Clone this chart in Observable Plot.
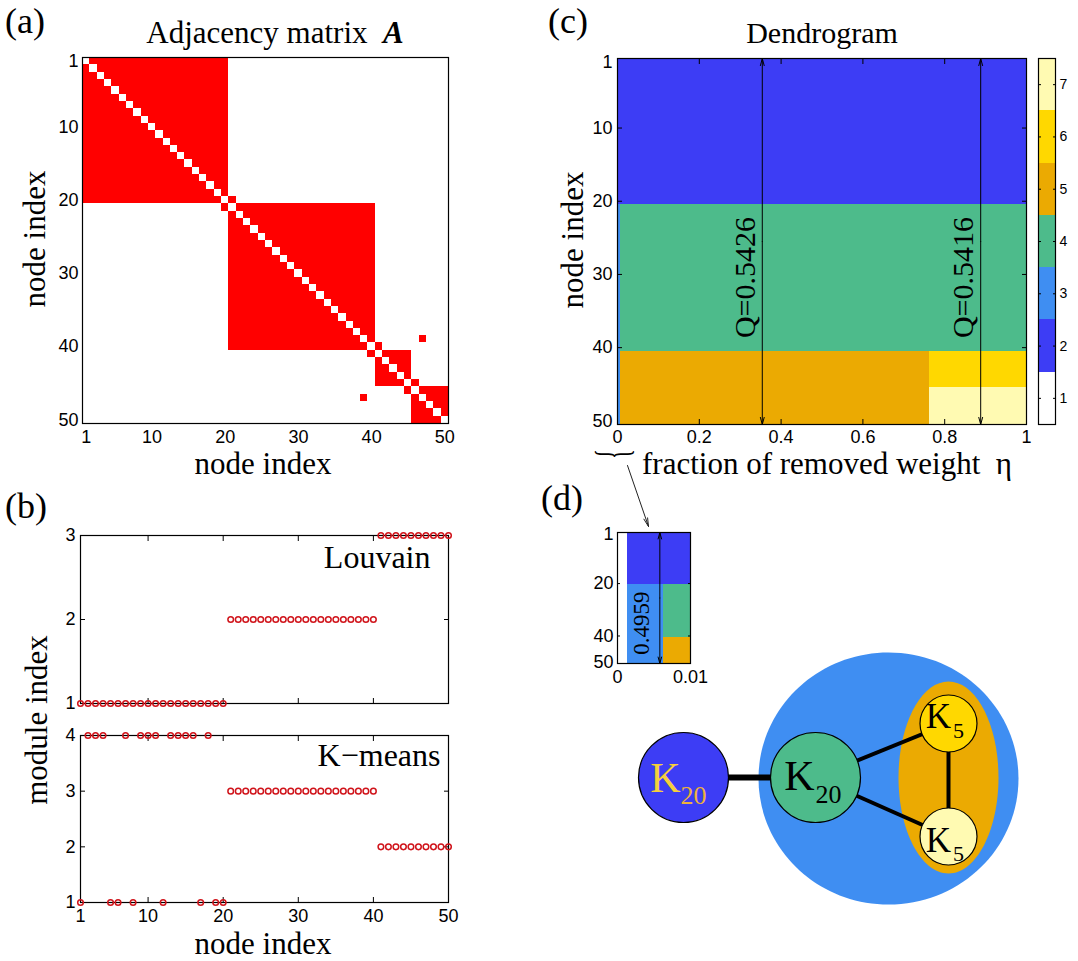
<!DOCTYPE html>
<html>
<head>
<meta charset="utf-8">
<script src="https://cdn.jsdelivr.net/npm/d3@7"></script>
<script src="https://cdn.jsdelivr.net/npm/@observablehq/plot@0.6"></script>
<style>
html,body{margin:0;padding:0;background:#fff;}
#page{position:relative;width:1078px;height:961px;overflow:hidden;background:#fff;}
.pl{position:absolute;line-height:0;}
.lbl{position:absolute;line-height:1;white-space:pre;color:#000;font-family:'Liberation Serif','Times New Roman',Times,serif;}
</style>
</head>
<body>
<div id="page"></div>
<script>
// ================= DATA =================
const nodeIndex = [1,2,3,4,5,6,7,8,9,10,11,12,13,14,15,16,17,18,19,20,21,22,23,24,25,26,27,28,29,30,31,32,33,34,35,36,37,38,39,40,41,42,43,44,45,46,47,48,49,50];
const nodeTicks = [1, 10, 20, 30, 40, 50];
const communities = [[1, 20], [21, 40], [41, 45], [46, 50]];
const bridgeEdges = [[20, 21], [40, 41], [45, 46], [39, 47]];

const louvainModule = [1,1,1,1,1,1,1,1,1,1,1,1,1,1,1,1,1,1,1,1,
                       2,2,2,2,2,2,2,2,2,2,2,2,2,2,2,2,2,2,2,2,
                       3,3,3,3,3,3,3,3,3,3];
const kmeansModule  = [1,4,4,4,1,1,4,1,4,4,4,1,4,4,4,4,1,4,1,1,
                       3,3,3,3,3,3,3,3,3,3,3,3,3,3,3,3,3,3,3,3,
                       2,2,2,2,2,2,2,2,2,2];
const louvainTicks = [1, 2, 3];
const kmeansTicks = [1, 2, 3, 4];
const moduleXTicks = [1, 10, 20, 30, 40, 50];

const etaBreaks = [0, 0.0014, 0.0063, 0.763, 1];
const rowGroups = [[1, 20], [21, 40], [41, 45], [46, 50]];
const moduleByInterval = [[1,1,1,1], [2,3,3,3], [2,4,5,5], [2,4,6,7]];
const moduleIds = [1, 2, 3, 4, 5, 6, 7];
const moduleColors = ["#ffffff", "#3d3df5", "#3f8ef2", "#4dbb8b", "#ebaa02", "#ffd800", "#fffab2"];
const etaTicks = [0, 0.2, 0.4, 0.6, 0.8, 1];
const insetEtaTicks = [0, 0.01];
const insetNodeTicks = [1, 20, 40, 50];
const qArrows = [{eta: 0.354, from: 1, to: 50, label: "Q=0.5426"}, {eta: 0.888, from: 1, to: 50, label: "Q=0.5416"}];
const insetArrows = [{eta: 0.0058, from: 1, to: 50, label: "0.4959"}];

const diagramRegions = [{id: "outer", module: 3}, {id: "pair", module: 5}];
const diagramNodes = [
  {id: "A", base: "K", sub: "20", module: 2},
  {id: "B", base: "K", sub: "20", module: 4},
  {id: "C", base: "K", sub: "5", module: 6},
  {id: "D", base: "K", sub: "5", module: 7}
];
const diagramEdges = [["A", "B"], ["B", "C"], ["B", "D"], ["C", "D"]];

// ================= LAYOUT (schematic, page px) =================
const layout = {
  outer: {cx: 888, cy: 778, rx: 130, ry: 126},
  pair: {cx: 948, cy: 777, rx: 50, ry: 96},
  A: {cx: 683, cy: 777, r: 45, kx: 665, ky: 778, sx: 693, sy: 795, ks: 42, ss: 26},
  B: {cx: 815, cy: 777, r: 45, kx: 799, ky: 776, sx: 828, sy: 794, ks: 42, ss: 26},
  C: {cx: 948, cy: 723, r: 28.5, kx: 938, ky: 716, sx: 958, sy: 730, ks: 35, ss: 22},
  D: {cx: 948, cy: 836, r: 28.5, kx: 938, ky: 840, sx: 958, sy: 853, ks: 35, ss: 22},
  pointer: {x1: 627, y1: 465, x2: 648, y2: 526}
};
const edgeWidths = {"A-B": 6};

// ================= HELPERS =================
const serif = "'Liberation Serif','Times New Roman',Times,serif";
const sans = "'Liberation Sans',Arial,Helvetica,sans-serif";
const page = document.getElementById("page");
function place(el, left, top) {
  const d = document.createElement("div");
  d.className = "pl";
  d.style.left = left + "px";
  d.style.top = top + "px";
  d.appendChild(el);
  page.appendChild(d);
}
function label(html, {x, y, size = 31, anchor = "start", rotate = 0, extra = ""}) {
  const d = document.createElement("div");
  d.className = "lbl";
  d.innerHTML = html;
  d.style.fontSize = size + "px";
  if (rotate) {
    d.style.left = x + "px";
    d.style.top = y + "px";
    d.style.transform = `translate(-50%,-50%) rotate(${rotate}deg) ${extra}`;
  } else {
    d.style.left = x + "px";
    d.style.top = (y - 0.8375 * size) + "px";
    if (anchor === "middle") d.style.transform = "translateX(-50%) " + extra;
    else if (anchor === "end") d.style.transform = "translateX(-100%) " + extra;
  }
  page.appendChild(d);
  return d;
}
const baseStyle = {fontFamily: sans, fontSize: "18px", background: "transparent", overflow: "visible", color: "black"};
function inTicks(axis, values, anchors, len = 5) {
  const f = axis === "x" ? Plot.axisX : Plot.axisY;
  return anchors.map(a => f(values, {anchor: a, tickSize: -len, tickFormat: () => "", label: null, strokeWidth: 1}));
}
const fmt = d => String(d);
function ellipseSymbol(rx, ry) {
  const k = 0.5523;
  return {draw(ctx) {
    ctx.moveTo(rx, 0);
    ctx.bezierCurveTo(rx, k * ry, k * rx, ry, 0, ry);
    ctx.bezierCurveTo(-k * rx, ry, -rx, k * ry, -rx, 0);
    ctx.bezierCurveTo(-rx, -k * ry, -k * rx, -ry, 0, -ry);
    ctx.bezierCurveTo(k * rx, -ry, rx, -k * ry, rx, 0);
    ctx.closePath();
  }};
}
const colorScale = {type: "ordinal", domain: moduleIds, range: moduleColors};

// ================= PANEL (a) =================
function linked(i, j) {
  return communities.some(([a, b]) => i >= a && i <= b && j >= a && j <= b) ||
    bridgeEdges.some(([a, b]) => (a === i && b === j) || (a === j && b === i));
}
const adjCells = [];
for (const i of nodeIndex) for (const j of nodeIndex) if (i !== j && linked(i, j)) adjCells.push({row: i, col: j});

place(Plot.plot({
  width: 460, height: 480, marginLeft: 82, marginRight: 12, marginTop: 57, marginBottom: 57,
  style: baseStyle,
  x: {domain: [0.5, 50.5]},
  y: {domain: [0.5, 50.5], reverse: true},
  marks: [
    Plot.rect(adjCells, {x1: d => d.col - 0.5, x2: d => d.col + 0.5, y1: d => d.row - 0.5, y2: d => d.row + 0.5, fill: "#ff0000", shapeRendering: "crispEdges"}),
    Plot.frame({stroke: "black", strokeWidth: 1.2}),
    Plot.axisX(nodeTicks, {anchor: "bottom", tickSize: 0, tickPadding: 7, label: null, tickFormat: fmt}),
    Plot.axisY(nodeTicks, {anchor: "left", tickSize: 0, tickPadding: 4, label: null, tickFormat: fmt})
  ]
}), 0, 0);

// ================= PANEL (b) =================
const dotRed = "#d0141b";
const louvainPts = nodeIndex.map((n, i) => ({node: n, module: louvainModule[i]}));
const kmeansPts = nodeIndex.map((n, i) => ({node: n, module: kmeansModule[i]}));

place(Plot.plot({
  width: 460, height: 200, marginLeft: 80, marginRight: 12, marginTop: 15, marginBottom: 17,
  style: baseStyle,
  x: {domain: [1, 50]}, y: {domain: [1, 3]},
  marks: [
    ...inTicks("x", [10, 20, 30, 40], ["top", "bottom"]),
    ...inTicks("y", [2], ["left", "right"]),
    Plot.frame({stroke: "black", strokeWidth: 1.2}),
    Plot.axisY(louvainTicks, {anchor: "left", tickSize: 0, tickPadding: 5, label: null, tickFormat: fmt}),
    Plot.dot(louvainPts, {x: "node", y: "module", r: 2.8, stroke: dotRed, strokeWidth: 1.5}),
    Plot.text(["Louvain"], {text: d => d, frameAnchor: "top-right", dx: -18, dy: 32, textAnchor: "end", lineAnchor: "bottom", fontFamily: serif, fontSize: 32})
  ]
}), 0, 520);

place(Plot.plot({
  width: 460, height: 241, marginLeft: 80, marginRight: 12, marginTop: 15, marginBottom: 59,
  style: baseStyle,
  x: {domain: [1, 50]}, y: {domain: [1, 4]},
  marks: [
    ...inTicks("x", [10, 20, 30, 40], ["top", "bottom"]),
    ...inTicks("y", [2, 3], ["left", "right"]),
    Plot.frame({stroke: "black", strokeWidth: 1.2}),
    Plot.axisY(kmeansTicks, {anchor: "left", tickSize: 0, tickPadding: 5, label: null, tickFormat: fmt}),
    Plot.axisX(moduleXTicks, {anchor: "bottom", tickSize: 0, tickPadding: 7, label: null, tickFormat: fmt}),
    Plot.dot(kmeansPts, {x: "node", y: "module", r: 2.8, stroke: dotRed, strokeWidth: 1.5}),
    Plot.text(["K\u2212means"], {text: d => d, frameAnchor: "top-right", dx: -8, dy: 30, textAnchor: "end", lineAnchor: "bottom", fontFamily: serif, fontSize: 32})
  ]
}), 0, 720);

// ================= PANEL (c) =================
const dendroRects = [];
moduleByInterval.forEach((mods, k) => rowGroups.forEach(([a, b], g) =>
  dendroRects.push({eta0: etaBreaks[k], eta1: etaBreaks[k + 1], row0: a, row1: b, module: mods[g]})));

place(Plot.plot({
  width: 480, height: 480, marginLeft: 57, marginRight: 14, marginTop: 58, marginBottom: 56,
  style: baseStyle,
  x: {domain: [0, 1]},
  y: {domain: [0.5, 50.5], reverse: true},
  color: colorScale,
  marks: [
    Plot.rect(dendroRects, {x1: "eta0", x2: "eta1", y1: d => d.row0 - 0.5, y2: d => d.row1 + 0.5, fill: "module", shapeRendering: "crispEdges"}),
    ...inTicks("x", [0.2, 0.4, 0.6, 0.8], ["top", "bottom"]),
    ...inTicks("y", [10, 20, 30, 40], ["left", "right"]),
    Plot.frame({stroke: "black", strokeWidth: 1.2}),
    Plot.axisX(etaTicks, {anchor: "bottom", tickSize: 0, tickPadding: 6, label: null, tickFormat: fmt}),
    Plot.axisY(nodeTicks, {anchor: "left", tickSize: 0, tickPadding: 5, label: null, tickFormat: fmt}),
    Plot.arrow(qArrows, {x1: "eta", x2: "eta", y1: d => (d.from + d.to) / 2, y2: d => d.from - 0.5, headAngle: 30, headLength: 11, stroke: "black", strokeWidth: 1}),
    Plot.arrow(qArrows, {x1: "eta", x2: "eta", y1: d => (d.from + d.to) / 2, y2: d => d.to + 0.5, headAngle: 30, headLength: 11, stroke: "black", strokeWidth: 1}),
    Plot.text(qArrows, {x: "eta", text: "label", frameAnchor: "middle", dx: -17, dy: 36, rotate: -90, fontFamily: serif, fontSize: 30, fill: "black"})
  ]
}), 560, 0);

// colorbar
place(Plot.plot({
  width: 48, height: 480, marginLeft: 8, marginRight: 23, marginTop: 58, marginBottom: 56,
  style: {...baseStyle, fontSize: "14px"},
  x: {domain: [0, 1], axis: null},
  y: {domain: [0.5, 7.5]},
  color: colorScale,
  marks: [
    Plot.rect(moduleIds, {x1: 0, x2: 1, y1: d => d - 0.5, y2: d => d + 0.5, fill: d => d, shapeRendering: "crispEdges"}),
    ...inTicks("y", moduleIds, ["left", "right"], 3),
    Plot.frame({stroke: "black", strokeWidth: 1.2}),
    Plot.axisY(moduleIds, {anchor: "right", tickSize: 0, tickPadding: 4, label: null, tickFormat: fmt})
  ]
}), 1030, 0);

// ================= PANEL (d) diagram + pointer =================
const edgeData = diagramEdges.map(([s, t]) => ({s, t, w: edgeWidths[s + "-" + t] || 4}));
place(Plot.plot({
  width: 518, height: 506, margin: 0,
  style: {...baseStyle},
  x: {domain: [560, 1078], range: [0, 518], axis: null},
  y: {domain: [455, 961], range: [0, 506], axis: null},
  r: {type: "identity"},
  color: colorScale,
  marks: [
    ...diagramRegions.map(reg => Plot.dot([reg], {x: d => layout[d.id].cx, y: d => layout[d.id].cy, fill: "module", symbol: ellipseSymbol(layout[reg.id].rx, layout[reg.id].ry)})),
    Plot.link(edgeData, {x1: d => layout[d.s].cx, y1: d => layout[d.s].cy, x2: d => layout[d.t].cx, y2: d => layout[d.t].cy, strokeWidth: d => d.w, stroke: "black"}),
    Plot.dot(diagramNodes, {x: d => layout[d.id].cx, y: d => layout[d.id].cy, r: d => layout[d.id].r, fill: "module", stroke: "black", strokeWidth: 1.2}),
    Plot.text(diagramNodes, {x: d => layout[d.id].kx, y: d => layout[d.id].ky, text: "base", fontSize: d => layout[d.id].ks, fontFamily: serif, fill: "#f5cf3c", filter: d => d.id === "A"}),
    Plot.text(diagramNodes, {x: d => layout[d.id].sx, y: d => layout[d.id].sy, text: "sub", fontSize: d => layout[d.id].ss, fontFamily: serif, fill: "#eeb23c", filter: d => d.id === "A"}),
    Plot.text(diagramNodes, {x: d => layout[d.id].kx, y: d => layout[d.id].ky, text: "base", fontSize: d => layout[d.id].ks, fontFamily: serif, fill: "black", filter: d => d.id !== "A"}),
    Plot.text(diagramNodes, {x: d => layout[d.id].sx, y: d => layout[d.id].sy, text: "sub", fontSize: d => layout[d.id].ss, fontFamily: serif, fill: "black", filter: d => d.id !== "A"}),
    Plot.arrow([layout.pointer], {x1: "x1", y1: "y1", x2: "x2", y2: "y2", headAngle: 26, headLength: 13, stroke: "#222", strokeWidth: 1})
  ]
}), 560, 455);

// inset
place(Plot.plot({
  width: 160, height: 220, marginLeft: 57, marginRight: 30, marginTop: 52, marginBottom: 37,
  style: baseStyle,
  x: {domain: [0, 0.01]},
  y: {domain: [0.5, 50.5], reverse: true},
  color: colorScale,
  marks: [
    Plot.rect(dendroRects, {x1: "eta0", x2: "eta1", y1: d => d.row0 - 0.5, y2: d => d.row1 + 0.5, fill: "module", clip: true, shapeRendering: "crispEdges"}),
    ...inTicks("y", [20, 40], ["left", "right"], 3),
    Plot.frame({stroke: "black", strokeWidth: 1.2}),
    Plot.axisX(insetEtaTicks, {anchor: "bottom", tickSize: 0, tickPadding: 7, label: null, tickFormat: fmt}),
    Plot.axisY(insetNodeTicks, {anchor: "left", tickSize: 0, tickPadding: 4, label: null, tickFormat: fmt}),
    Plot.arrow(insetArrows, {x1: "eta", x2: "eta", y1: d => (d.from + d.to) / 2, y2: d => d.from - 0.5, headAngle: 30, headLength: 10, stroke: "black", strokeWidth: 1}),
    Plot.arrow(insetArrows, {x1: "eta", x2: "eta", y1: d => (d.from + d.to) / 2, y2: d => d.to + 0.5, headAngle: 30, headLength: 10, stroke: "black", strokeWidth: 1}),
    Plot.text(insetArrows, {x: "eta", text: "label", frameAnchor: "middle", dx: -18, dy: 25, rotate: -90, fontFamily: serif, fontSize: 23, fill: "black"})
  ]
}), 560, 480);

// ================= TEXT LABELS =================
label("(a)", {x: 5, y: 33, size: 36});
label("(b)", {x: 5, y: 518, size: 36});
label("(c)", {x: 548, y: 33, size: 36});
label("(d)", {x: 541, y: 510, size: 36});
label("Adjacency matrix&nbsp;&nbsp;<b><i>A</i></b>", {x: 275, y: 43, size: 31, anchor: "middle"});
label("Dendrogram", {x: 822, y: 43, size: 30, anchor: "middle"});
label("node index", {x: 263, y: 474, size: 31, anchor: "middle"});
label("node index", {x: 34, y: 239, size: 31, rotate: -90});
label("node index", {x: 263, y: 954, size: 31, anchor: "middle"});
label("module index", {x: 36, y: 720, size: 31, rotate: -90});
label("node index", {x: 572, y: 240, size: 31, rotate: -90});
label("fraction of removed weight&nbsp;&nbsp;\u03b7", {x: 642, y: 474, size: 31});
label("}", {x: 616, y: 454, size: 46, rotate: 90, extra: "scale(0.45,1)"});
</script>
</body>
</html>
